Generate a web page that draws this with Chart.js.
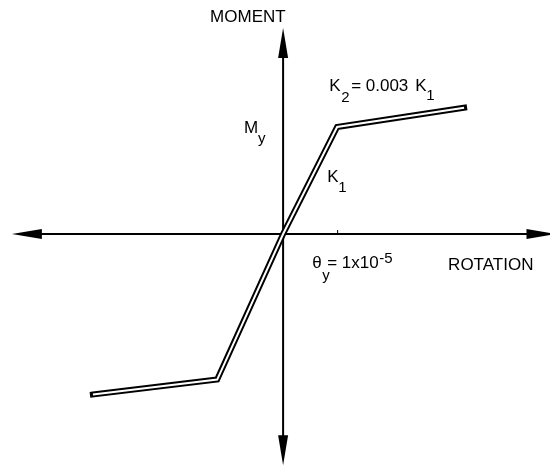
<!DOCTYPE html>
<html>
<head>
<meta charset="utf-8">
<script src="https://cdn.jsdelivr.net/npm/chart.js@4.4.1/dist/chart.umd.min.js"></script>
<style>
  html, body { margin: 0; padding: 0; background: #fff; }
  #wrap { width: 550px; height: 466px; }
</style>
</head>
<body>
<div id="wrap"><canvas id="mc" width="550" height="466"></canvas></div>
<script>
// bilinear moment-rotation backbone (rotation in units of theta_y = 1e-5, moment in units of My)
const rotation = [-3.52, -1.22, 0, 1, 3.35];
const moment   = [-1.50, -1.36, 0, 1, 1.18];
const yieldRotation = 1;   // theta_y tick on the rotation axis
const yieldMoment = 1;     // My

// how far the axes run (with arrowheads) in data units
const rotAxisRange = [-5.02, 5.06];
const momAxisRange = [-2.16, 1.925];

const FONT = '"Liberation Sans", Arial, sans-serif';
const pts = rotation.map((r, i) => ({ x: r, y: moment[i] }));

function arrow(ctx, tx, ty, dx, dy) {
  // tip at (tx,ty), pointing along (dx,dy)
  const len = 30, half = 5;
  const bx = tx - dx * len, by = ty - dy * len;
  ctx.beginPath();
  ctx.moveTo(tx, ty);
  ctx.lineTo(bx - dy * half, by + dx * half);
  ctx.lineTo(bx + dy * half, by - dx * half);
  ctx.closePath();
  ctx.fill();
}

// pieces: [text, dx, dy, size]
function label(ctx, x, y, pieces) {
  pieces.forEach(([t, dx, dy, size]) => {
    ctx.font = size + 'px ' + FONT;
    ctx.fillText(t, x + dx, y + dy);
  });
}

const axesPlugin = {
  id: 'axesPlugin',
  beforeDatasetsDraw(chart) {
    const { ctx, scales: { x, y } } = chart;
    const x0 = x.getPixelForValue(0), y0 = y.getPixelForValue(0);
    const xl = x.getPixelForValue(rotAxisRange[0]), xr = x.getPixelForValue(rotAxisRange[1]);
    const yt = y.getPixelForValue(momAxisRange[1]), yb = y.getPixelForValue(momAxisRange[0]);
    ctx.save();
    ctx.strokeStyle = '#000';
    ctx.fillStyle = '#000';
    ctx.lineWidth = 2;
    ctx.beginPath();
    ctx.moveTo(xl + 10, y0); ctx.lineTo(xr - 10, y0);
    ctx.moveTo(x0, yt + 10); ctx.lineTo(x0, yb - 10);
    ctx.stroke();
    arrow(ctx, xl, y0, -1, 0);
    arrow(ctx, xr, y0, 1, 0);
    arrow(ctx, x0, yt, 0, -1);
    arrow(ctx, x0, yb, 0, 1);
    // theta_y tick
    const xt = x.getPixelForValue(yieldRotation);
    ctx.lineWidth = 1;
    ctx.beginPath();
    ctx.moveTo(xt + 0.5, y0); ctx.lineTo(xt + 0.5, y0 - 4);
    ctx.stroke();
    ctx.restore();
  },
  afterDatasetsDraw(chart) {
    const { ctx, scales: { x, y } } = chart;
    const x0 = x.getPixelForValue(0), y0 = y.getPixelForValue(0);
    const xy = x.getPixelForValue(yieldRotation), yy = y.getPixelForValue(yieldMoment);
    ctx.save();
    ctx.fillStyle = '#000';
    ctx.textBaseline = 'alphabetic';
    ctx.textAlign = 'left';
    label(ctx, x0 - 73, 22, [['MOMENT', 0, 0, 17]]);
    label(ctx, x0 + 165, y0 + 36, [['ROTATION', 0, 0, 17]]);
    label(ctx, x0 - 39, yy + 6, [['M', 0, 0, 17], ['y', 14, 10, 15]]);
    label(ctx, xy - 8, yy - 36, [['K', 0, 0, 17], ['2', 12, 11, 15], ['= 0.003', 22, 0, 17], ['K', 86, 0, 17], ['1', 97, 9, 15]]);
    label(ctx, xy - 10, yy + 55, [['K', 0, 0, 17], ['1', 11, 10, 15]]);
    label(ctx, xy - 25, y0 + 34, [['θ', 0, 0, 17], ['y', 10, 12, 15], ['= 1x10', 15, 0, 17], ['-5', 67, -5, 15]]);
    ctx.restore();
  }
};

new Chart(document.getElementById('mc'), {
  type: 'scatter',
  data: {
    datasets: [
      { data: pts, showLine: true, borderColor: '#fff', borderWidth: 2,
        borderCapStyle: 'butt', borderJoinStyle: 'miter', pointRadius: 0, tension: 0 },
      { data: pts, showLine: true, borderColor: '#000', borderWidth: 6,
        borderCapStyle: 'square', borderJoinStyle: 'miter', pointRadius: 0, tension: 0 }
    ]
  },
  options: {
    responsive: false,
    animation: false,
    layout: { padding: 0 },
    plugins: { legend: { display: false }, tooltip: { enabled: false } },
    scales: {
      x: { type: 'linear', display: false, min: -5.24, max: 4.94 },
      y: { type: 'linear', display: false, min: -2.168, max: 2.187 }
    }
  },
  plugins: [axesPlugin]
});
</script>
</body>
</html>
